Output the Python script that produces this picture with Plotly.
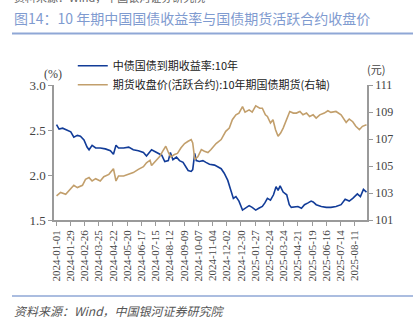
import plotly.graph_objects as go

# 中债国债到期收益率:10年 (%)
yield_dates = [
    "2024-01-02", "2024-01-07", "2024-01-14", "2024-01-23", "2024-01-30", "2024-02-05",
    "2024-02-12", "2024-02-18", "2024-02-25", "2024-03-02", "2024-03-06", "2024-03-12",
    "2024-03-19", "2024-03-28", "2024-04-07", "2024-04-17", "2024-04-23", "2024-04-28",
    "2024-05-03", "2024-05-13", "2024-05-23", "2024-06-01", "2024-06-11", "2024-06-21",
    "2024-06-27", "2024-07-07", "2024-07-14", "2024-07-23", "2024-07-27", "2024-08-02",
    "2024-08-09", "2024-08-13", "2024-08-18", "2024-08-25", "2024-08-31", "2024-09-07",
    "2024-09-13", "2024-09-17", "2024-09-23", "2024-09-26", "2024-09-30", "2024-10-03",
    "2024-10-09", "2024-10-16", "2024-10-22", "2024-10-29", "2024-11-08", "2024-11-14",
    "2024-11-21", "2024-11-27", "2024-12-04", "2024-12-10", "2024-12-15", "2024-12-20",
    "2024-12-26", "2025-01-02", "2025-01-08", "2025-01-15", "2025-01-21", "2025-01-28",
    "2025-02-03", "2025-02-10", "2025-02-15", "2025-02-20", "2025-02-26", "2025-03-04",
    "2025-03-09", "2025-03-13", "2025-03-17", "2025-03-23", "2025-03-30", "2025-04-04",
    "2025-04-08", "2025-04-15", "2025-04-21", "2025-04-28", "2025-05-04", "2025-05-11",
    "2025-05-17", "2025-05-21", "2025-05-27", "2025-06-06", "2025-06-16", "2025-06-25",
    "2025-07-05", "2025-07-15", "2025-07-23", "2025-07-31", "2025-08-07", "2025-08-16",
    "2025-08-22", "2025-08-28", "2025-09-03",
]
yield_values = [
    2.56, 2.51, 2.52, 2.50, 2.48, 2.42,
    2.44, 2.43, 2.39, 2.31, 2.28, 2.33,
    2.30, 2.30, 2.29, 2.27, 2.23, 2.33,
    2.30, 2.30, 2.31, 2.28, 2.27, 2.25,
    2.21, 2.28, 2.26, 2.24, 2.22, 2.15,
    2.16, 2.25, 2.17, 2.20, 2.16, 2.14,
    2.09, 2.05, 2.04, 2.06, 2.24, 2.16,
    2.15, 2.16, 2.14, 2.12, 2.11, 2.09,
    2.07, 2.02, 1.94, 1.83, 1.74, 1.76,
    1.71, 1.61, 1.63, 1.66, 1.64, 1.61,
    1.63, 1.65, 1.69, 1.74, 1.72, 1.78,
    1.87, 1.83, 1.88, 1.81, 1.78, 1.67,
    1.64, 1.65, 1.65, 1.63, 1.67, 1.69,
    1.71, 1.70, 1.67, 1.65, 1.64, 1.64,
    1.65, 1.67, 1.73, 1.71, 1.74, 1.79,
    1.76, 1.84, 1.81,
]

# 期货收盘价(活跃合约):10年期国债期货 (元)
futures_dates = [
    "2024-01-02", "2024-01-10", "2024-01-20", "2024-01-30", "2024-02-05", "2024-02-12",
    "2024-02-22", "2024-02-28", "2024-03-06", "2024-03-12", "2024-03-19", "2024-03-28",
    "2024-04-04", "2024-04-14", "2024-04-23", "2024-04-28", "2024-05-03", "2024-05-13",
    "2024-05-23", "2024-06-01", "2024-06-11", "2024-06-21", "2024-06-27", "2024-07-04",
    "2024-07-07", "2024-07-16", "2024-07-23", "2024-07-29", "2024-08-04", "2024-08-10",
    "2024-08-14", "2024-08-21", "2024-08-27", "2024-09-03", "2024-09-10", "2024-09-17",
    "2024-09-23", "2024-09-26", "2024-09-30", "2024-10-06", "2024-10-13", "2024-10-19",
    "2024-10-26", "2024-11-01", "2024-11-11", "2024-11-21", "2024-11-30", "2024-12-07",
    "2024-12-13", "2024-12-20", "2024-12-26", "2025-01-02", "2025-01-07", "2025-01-15",
    "2025-01-21", "2025-01-28", "2025-02-05", "2025-02-10", "2025-02-16", "2025-02-20",
    "2025-02-26", "2025-03-03", "2025-03-08", "2025-03-13", "2025-03-18", "2025-03-23",
    "2025-03-30", "2025-04-05", "2025-04-12", "2025-04-18", "2025-04-25", "2025-05-01",
    "2025-05-08", "2025-05-14", "2025-05-21", "2025-05-27", "2025-06-03", "2025-06-12",
    "2025-06-19", "2025-06-25", "2025-07-05", "2025-07-15", "2025-07-25", "2025-07-31",
    "2025-08-07", "2025-08-13", "2025-08-20", "2025-08-26", "2025-09-03",
]
futures_values = [
    102.79, 103.04, 102.91, 103.28, 103.57, 103.40,
    103.57, 104.01, 104.14, 103.89, 104.06, 103.89,
    104.21, 104.38, 104.80, 103.89, 104.26, 104.26,
    104.38, 104.51, 104.75, 104.95, 105.24, 105.43,
    105.04, 105.45, 105.70, 106.10, 106.46, 105.93,
    105.68, 105.85, 105.93, 106.35, 106.66, 106.83,
    106.96, 106.71, 105.49, 105.68, 106.22, 106.10,
    106.00, 106.22, 106.66, 106.96, 107.57, 107.81,
    108.43, 108.79, 108.92, 109.40, 108.99, 109.16,
    108.99, 109.46, 109.28, 109.28, 108.79, 108.67,
    108.18, 108.43, 107.69, 107.20, 107.44, 107.81,
    108.55, 109.04, 108.92, 108.92, 109.04, 108.79,
    108.92, 108.67, 108.79, 108.55, 108.79, 108.92,
    109.09, 108.97, 109.04, 108.79, 108.23, 108.48,
    108.28, 107.94, 107.69, 107.94, 108.05,
]

# Date labels every four weeks on the category axis
tick_labels = [
    "2024-01-01", "2024-01-29", "2024-02-26", "2024-03-25", "2024-04-22", "2024-05-20",
    "2024-06-17", "2024-07-15", "2024-08-12", "2024-09-09", "2024-10-07", "2024-11-04",
    "2024-12-02", "2024-12-30", "2025-01-27", "2025-02-24", "2025-03-24", "2025-04-21",
    "2025-05-19", "2025-06-16", "2025-07-14", "2025-08-11",
]

BLUE = "#123c98"
TAN = "#c29f6c"
RULE = "#8fa7d6"
AXIS = "#9a9a9a"
CJK = "Noto Sans CJK SC"
SERIF = "Liberation Serif"

fig = go.Figure()
fig.add_trace(go.Scatter(
    x=yield_dates, y=yield_values, mode="lines",
    name="中债国债到期收益率:10年",
    line=dict(color=BLUE, width=1.6),
))
fig.add_trace(go.Scatter(
    x=futures_dates, y=futures_values, mode="lines",
    name="期货收盘价(活跃合约):10年期国债期货(右轴)",
    line=dict(color=TAN, width=1.6),
    yaxis="y2",
))

fig.update_layout(
    width=416, height=325,
    margin=dict(l=54, r=49, t=85, b=105),
    paper_bgcolor="white", plot_bgcolor="white",
    showlegend=True,
    legend=dict(
        x=0.06, y=1.25, xanchor="left", yanchor="top",
        orientation="v", bgcolor="rgba(0,0,0,0)",
        font=dict(family=CJK, size=11, color="#222"),
        itemwidth=30, tracegroupgap=0,
    ),
    xaxis=dict(
        type="date",
        range=["2023-12-28", "2025-09-04"],
        tickvals=tick_labels, ticktext=tick_labels,
        tickangle=-90,
        tickfont=dict(family=SERIF, size=11, color="#444"),
        showgrid=False, zeroline=False,
        showline=True, linecolor=AXIS, linewidth=1.5,
        ticks="outside", ticklen=4, tickcolor=AXIS,
    ),
    yaxis=dict(
        range=[1.5, 3.0], tick0=1.5, dtick=0.5, tickformat=".1f",
        tickfont=dict(family=SERIF, size=13, color="#444"),
        showgrid=False, zeroline=False,
        showline=True, linecolor=AXIS, linewidth=1.5,
        ticks="outside", ticklen=4, tickcolor=AXIS,
    ),
    yaxis2=dict(
        range=[101, 111], tick0=101, dtick=2, overlaying="y", side="right",
        tickfont=dict(family=SERIF, size=12, color="#444"),
        showgrid=False, zeroline=False,
        showline=True, linecolor=AXIS, linewidth=1.5,
        ticks="outside", ticklen=4, tickcolor=AXIS,
    ),
)

# Paper-coordinate helpers for the 313 x 135 plot area
def px_x(px):
    return (px - 54) / 313

def px_y(py):
    return (220 - py) / 135

annotations = [
    dict(text="资料来源：Wind，中国银河证券研究院", x=px_x(12), y=px_y(-3),
         xanchor="left", yanchor="middle",
         font=dict(family=CJK, size=11, color="#666")),
    dict(text="图14：10 年期中国国债收益率与国债期货活跃合约收盘价", x=px_x(12), y=px_y(18),
         xanchor="left", yanchor="middle",
         font=dict(family=CJK, size=14, color="#7f9bd0")),
    dict(text="(%)", x=px_x(53), y=px_y(74), xanchor="center", yanchor="middle",
         font=dict(family=SERIF, size=12, color="#444")),
    dict(text="(元)", x=px_x(376), y=px_y(69), xanchor="center", yanchor="middle",
         font=dict(family=CJK, size=11, color="#444")),
    dict(text="<i>资料来源：Wind，中国银河证券研究院</i>", x=px_x(12), y=px_y(310),
         xanchor="left", yanchor="middle",
         font=dict(family=CJK, size=12, color="#555")),
]
for a in annotations:
    a.update(xref="paper", yref="paper", showarrow=False)
fig.update_layout(annotations=annotations)

fig.update_layout(shapes=[
    dict(type="line", xref="paper", yref="paper",
         x0=px_x(12), x1=px_x(413), y0=px_y(33.5), y1=px_y(33.5),
         line=dict(color=RULE, width=2)),
    dict(type="line", xref="paper", yref="paper",
         x0=px_x(12), x1=px_x(413), y0=px_y(296), y1=px_y(296),
         line=dict(color=RULE, width=1.5)),
])

fig.write_html("out.html")
